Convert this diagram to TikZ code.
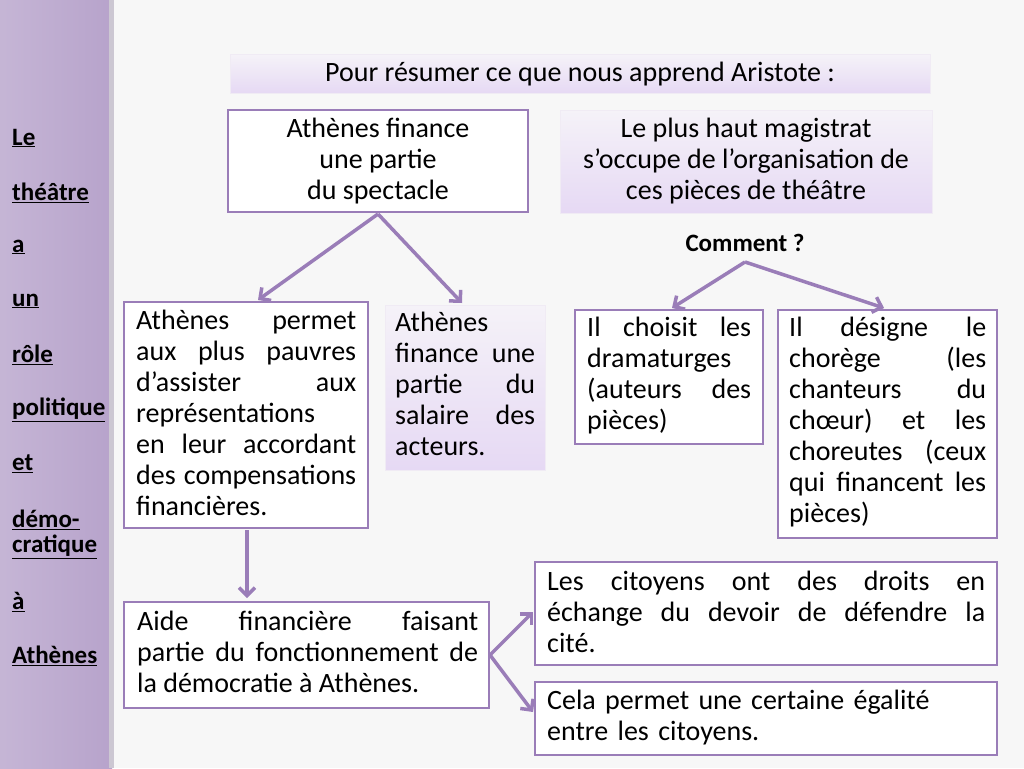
\documentclass[tikz,border=0pt]{standalone}
\usepackage{fontspec}
\setmainfont{Carlito}
\usetikzlibrary{arrows.meta}
\definecolor{lila}{HTML}{9A7DB8}
\definecolor{lilafill}{HTML}{E6D9F4}
\definecolor{side}{HTML}{B7A3CB}
\newcommand{\nohyph}{\hyphenpenalty=10000 \exhyphenpenalty=10000 }
\tikzset{
 txt/.style={font=\fontsize{28}{31}\selectfont\nohyph, inner sep=0pt},
 wbox/.style={draw=lila, line width=2.5pt, fill=white},
 pbox/.style={draw=white!85!lila, line width=1pt, top color=white!90!lila, bottom color=lilafill},
 arr/.style={draw=lila, line width=3.5pt, -{Straight Barb[length=8pt,width=16pt]}},
 side/.style={font=\fontsize{25}{27}\selectfont\bfseries, anchor=west, inner sep=0pt},
}
\newcommand{\ul}[1]{\underline{#1}}
\begin{document}
\begin{tikzpicture}[x=1pt,y=-1pt]
\useasboundingbox (0,0) rectangle (1024,768);
\fill[black!3] (0,0) rectangle (1024,768);
% side bar
\shade[left color=side!80, right color=side] (0,0) rectangle (112,768);
\fill[side!70!black!40] (109,0) rectangle (114,768);
\foreach \y/\t in {138/Le,193/théâtre,247/a,301/un,355/rôle,410/politique,464/et,520/démo-,547/cratique,602/à,656/Athènes}
 \node[side] at (12,\y) {\ul{\t}};
% title
\draw[pbox] (230,55) rectangle (930,93);
\node[txt] (titre) at (580,74) {Pour résumer ce que nous apprend Aristote :};
% boxes
\draw[wbox] (228,110) rectangle (528,212);
\node[txt, align=center] (finance) at (378,161) {Athènes finance\\une partie\\du spectacle};
\draw[pbox] (560,110) rectangle (932,213);
\node[txt, align=center] (magistrat) at (746,161) {Le plus haut magistrat\\s’occupe de l’organisation de\\ces pièces de théâtre};
\node[txt, font=\fontsize{25}{28}\selectfont\bfseries] (comment) at (745,243) {Comment ?};
\draw[wbox] (124,302) rectangle (368,528);
\node[txt, text width=220pt, align=justify, anchor=north west] (pauvres) at (136,310) {Athènes permet aux plus pauvres d’assister aux représentations en leur accordant des compensations financières.};
\draw[pbox] (385,305) rectangle (545,470);
\node[txt, text width=140pt, align=justify, anchor=north west] (salaire) at (395,312) {Athènes finance une partie du salaire des acteurs.};
\draw[wbox] (575,310) rectangle (763,444);
\node[txt, text width=164pt, align=justify, anchor=north west] (dramaturges) at (587,317) {Il choisit les dramaturges (auteurs des pièces)};
\draw[wbox] (778,310) rectangle (997,538);
\node[txt, text width=197pt, align=justify, anchor=north west] (chorege) at (789,317) {Il désigne le chorège (les chanteurs du chœur) et les choreutes (ceux qui financent les pièces)};
\draw[wbox] (124,602) rectangle (489,708);
\node[txt, text width=341pt, align=justify, anchor=north west] (aide) at (137,611) {Aide financière faisant\linebreak partie du fonctionnement de\linebreak la démocratie à Athènes.};
\draw[wbox] (535,562) rectangle (997,665);
\node[txt, text width=438pt, align=justify, anchor=north west] (droits) at (547,571) {Les citoyens ont des droits en\linebreak échange du devoir de défendre la\linebreak cité.};
\draw[wbox] (535,682) rectangle (997,755);
\node[txt, text width=438pt, align=left, anchor=north west] (egalite) at (547,690) {Cela permet une certaine égalité\\entre les citoyens.};
% arrows
\coordinate (fa) at (378,214);
\coordinate (ca) at (745,262);
\coordinate (pa) at (247,530);
\coordinate (ga) at (490,655);
\draw[arr] (fa) -- (258,300);
\draw[arr] (fa) -- (462,303);
\draw[arr] (ca) -- (672,308);
\draw[arr] (ca) -- (884,308);
\draw[arr] (pa) -- (247,598);
\draw[arr] (ga) -- (533,612);
\draw[arr] (ga) -- (533,712);
\end{tikzpicture}
\end{document}
